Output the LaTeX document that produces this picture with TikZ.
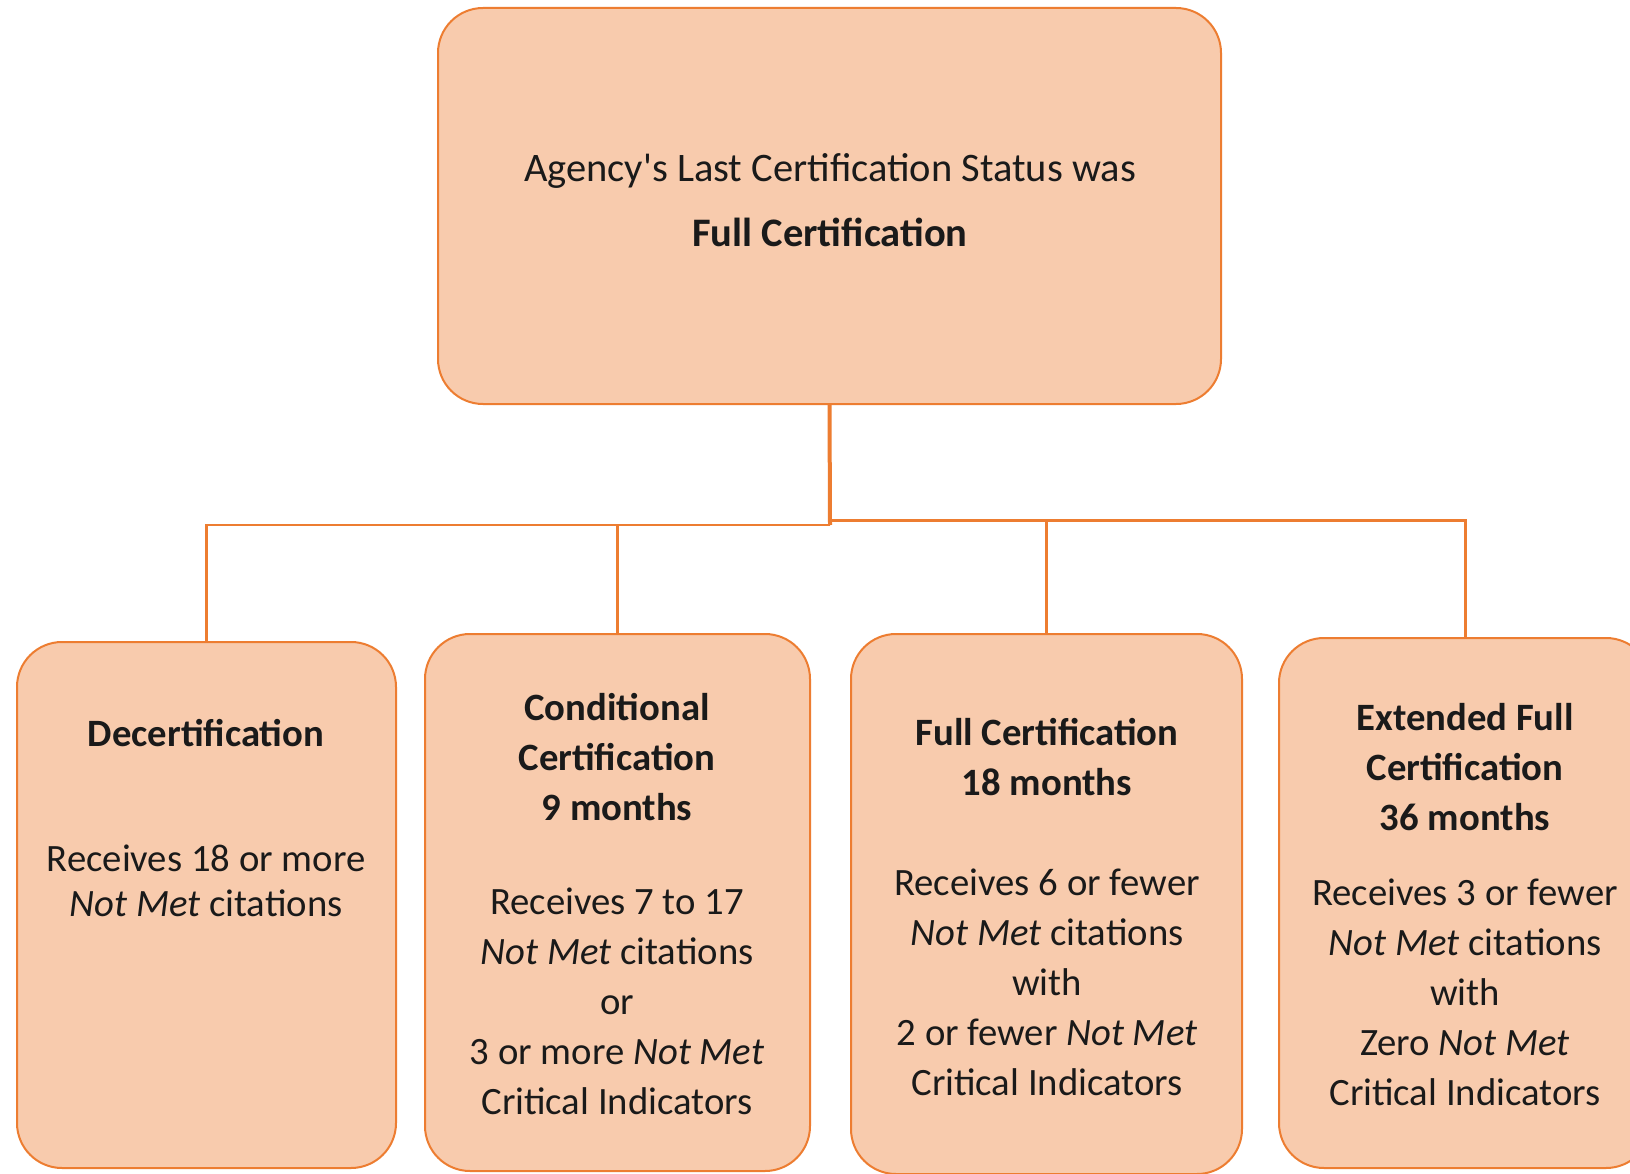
\documentclass[tikz,border=0pt]{standalone}
\usepackage{fontspec}
\setmainfont{Carlito}[Ligatures=TeXOff]
\definecolor{peach}{HTML}{F8CBAD}
\definecolor{edge}{HTML}{ED7D31}
\definecolor{ink}{HTML}{1A1A1A}
\begin{document}
\begin{tikzpicture}[x=1pt,y=-1pt,
  box/.style={rectangle,draw=edge,fill=peach,line width=2pt,rounded corners=45pt,inner sep=0pt},
  txt/.style={align=center,text=ink,inner sep=0pt,font=\fontsize{38.7}{50}\selectfont},
  link/.style={draw=edge,line width=2.2pt}]
\clip (0,0) rectangle (1630,1174);
\fill[white] (0,0) rectangle (1630,1174);
% boxes
\node[box,minimum width=783pt,minimum height=396pt] (top) at (829.5,206) {};
\node[box,minimum width=379pt,minimum height=526pt] (b1) at (206.5,905) {};
\node[box,minimum width=385pt,minimum height=537pt] (b2) at (617.5,902.5) {};
\node[box,minimum width=391pt,minimum height=540pt] (b3) at (1046.5,904) {};
\node[box,minimum width=372pt,minimum height=530pt] (b4) at (1465,903) {};
% connectors
\coordinate (j) at (830,525);
\coordinate (k) at (830,520);
\draw[link,line width=4pt] (top.south) -- (j);
\draw[link] (j) -| (b1.north);
\draw[link] (j) -| (b2.north);
\draw[link,line width=3pt] (k) -| (b3.north);
\draw[link,line width=3pt] (k) -| (b4.north);
% texts
\node[txt,font=\fontsize{40.5}{65}\selectfont] (t0) at (830,200.5) {Agency's Last Certification Status was\\\textbf{Full Certification}};
\node[txt] (h1) at (206,733) {\textbf{Decertification}};
\node[txt,font=\fontsize{38.7}{45}\selectfont] (d1) at (206,881) {Receives 18 or more\\\textit{Not Met} citations};
\node[txt] (h2) at (617,757) {\textbf{Conditional}\\\textbf{Certification}\\\textbf{9 months}};
\node[txt] (d2) at (617,1001) {Receives 7 to 17\\\textit{Not Met} citations\\or\\3 or more \textit{Not Met}\\Critical Indicators};
\node[txt] (h3) at (1047,757.5) {\textbf{Full Certification}\\\textbf{18 months}};
\node[txt] (d3) at (1047,982) {Receives 6 or fewer\\\textit{Not Met} citations\\with\\2 or fewer \textit{Not Met}\\Critical Indicators};
\node[txt] (h4) at (1465,767) {\textbf{Extended Full}\\\textbf{Certification}\\\textbf{36 months}};
\node[txt] (d4) at (1465,992) {Receives 3 or fewer\\\textit{Not Met} citations\\with\\Zero \textit{Not Met}\\Critical Indicators};
\end{tikzpicture}
\end{document}
